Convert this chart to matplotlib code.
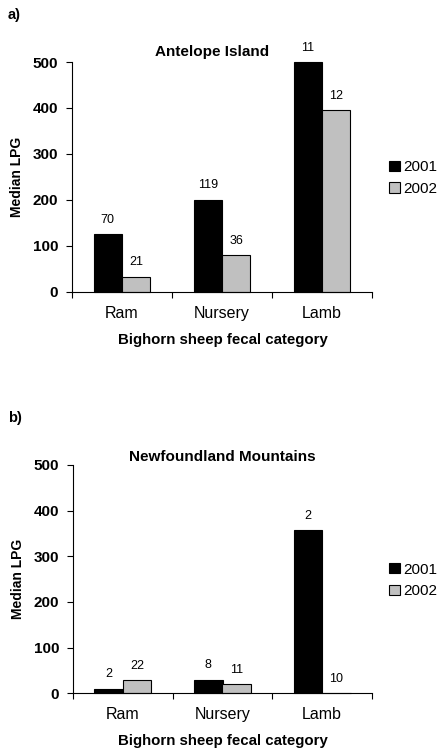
import numpy as np
import matplotlib
matplotlib.use("Agg")
import matplotlib.pyplot as plt

plt.rcParams['font.family'] = ['Liberation Sans', 'DejaVu Sans']

categories = ['Ram', 'Nursery', 'Lamb']
years = ['2001', '2002']

# a) Antelope Island
antelope_2001 = [125, 200, 500]
antelope_2002 = [33, 80, 395]
antelope_n_2001 = ['70', '119', '11']
antelope_n_2002 = ['21', '36', '12']

# b) Newfoundland Mountains
newf_2001 = [10, 30, 358]
newf_2002 = [29, 20, 0]
newf_n_2001 = ['2', '8', '2']
newf_n_2002 = ['22', '11', '10']

W, H = 440, 752
fig = plt.figure(figsize=(W / 100, H / 100), dpi=100)

def px_box(left, top, right, bottom):
    return [left / W, 1 - bottom / H, (right - left) / W, (bottom - top) / H]

panels = [
    dict(box=px_box(72, 62, 372, 291.7), title='Antelope Island', tx=0.467, ty=1.044,
         v1=antelope_2001, v2=antelope_2002, n1=antelope_n_2001, n2=antelope_n_2002,
         tag='a)', tag_y=15.5, leg_y=178),
    dict(box=px_box(73, 465, 372, 693.3), title='Newfoundland Mountains', tx=0.5, ty=1.036,
         v1=newf_2001, v2=newf_2002, n1=newf_n_2001, n2=newf_n_2002,
         tag='b)', tag_y=418, leg_y=580.5),
]

x = np.arange(len(categories))
bw = 0.285
off = 0.142

for p in panels:
    ax = fig.add_axes(p['box'])
    b1 = ax.bar(x - off, p['v1'], bw, color='black', edgecolor='black', linewidth=0.8,
                label=years[0], clip_on=False)
    b2 = ax.bar(x + off, p['v2'], bw, color='#c0c0c0', edgecolor='black', linewidth=0.8,
                label=years[1], clip_on=False)
    for bars, labs in ((b1, p['n1']), (b2, p['n2'])):
        for r, lab in zip(bars, labs):
            ax.annotate(lab, (r.get_x() + r.get_width() / 2, r.get_height()),
                        xytext=(0, 6), textcoords='offset points',
                        ha='center', va='bottom', fontsize=9)

    ax.set_xlim(-0.5, 2.5)
    ax.set_ylim(0, 500)
    ax.set_yticks([0, 100, 200, 300, 400, 500])
    ax.set_xticks(x)
    ax.set_xticklabels(categories, fontsize=11.5)
    ax.set_xticks([-0.5, 0.5, 1.5, 2.5], minor=True)
    ax.tick_params(axis='x', which='major', length=0, pad=10)
    ax.tick_params(axis='x', which='minor', length=4, width=0.8, direction='out')
    ax.tick_params(axis='y', length=4, width=0.8, direction='out', pad=6)
    for t in ax.get_yticklabels():
        t.set_fontsize(11)
        t.set_fontweight('bold')

    for s in ('top', 'right'):
        ax.spines[s].set_visible(False)
    for s in ('left', 'bottom'):
        ax.spines[s].set_linewidth(0.8)

    ax.set_ylabel('Median LPG', fontsize=10, fontweight='bold', va='center')
    ax.yaxis.set_label_coords(-0.183, 0.5)
    ax.set_xlabel('Bighorn sheep fecal category', fontsize=10.8, fontweight='bold', va='center')
    ax.xaxis.set_label_coords(0.503, -48 / 229.5)

    ax.text(p['tx'], p['ty'], p['title'], transform=ax.transAxes,
            ha='center', va='center', fontsize=11, fontweight='bold')

    fig.text(8 / W, 1 - p['tag_y'] / H, p['tag'], ha='left', va='center',
             fontsize=10.5, fontweight='bold')

    ax.legend(loc='center left', bbox_to_anchor=(389 / W, 1 - p['leg_y'] / H),
              bbox_transform=fig.transFigure, frameon=False, fontsize=11,
              borderpad=0, borderaxespad=0, handlelength=0.75, handleheight=0.65,
              handletextpad=0.15, labelspacing=0.5)

fig.savefig('out.png', dpi=100)
